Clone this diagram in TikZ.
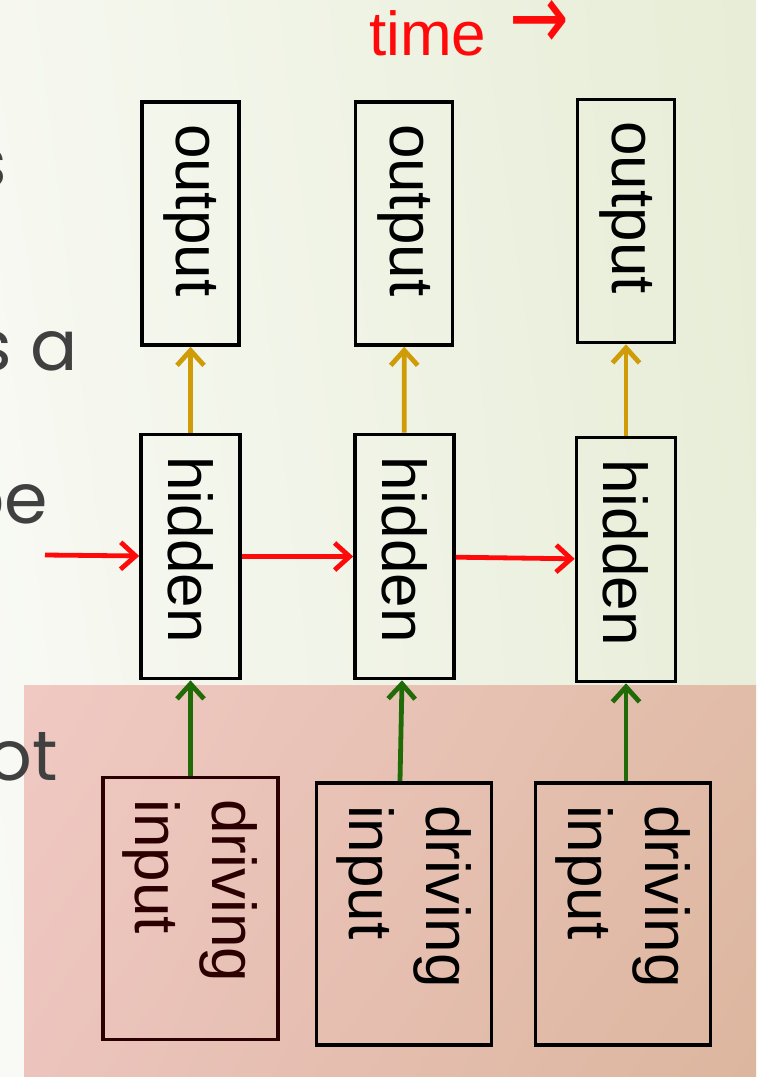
\documentclass[tikz,border=0pt]{standalone}
\usepackage{fontspec}
\setmainfont{Liberation Sans}
\newfontfamily\slidefont{Poppins}
\newfontfamily\arrowfont{DejaVu Sans}
\usetikzlibrary{arrows.meta,shadings}

\definecolor{bgUL}{HTML}{F6F8F0}
\definecolor{bgUR}{HTML}{E7EDD6}
\definecolor{bgLL}{HTML}{F9FAF6}
\definecolor{bgLR}{HTML}{E9EEDB}
\definecolor{pinkUL}{HTML}{F0C9C3}
\definecolor{pinkUR}{HTML}{E1BCA8}
\definecolor{pinkLL}{HTML}{ECC4BD}
\definecolor{pinkLR}{HTML}{DCB69E}
\definecolor{timered}{HTML}{FF0A0A}
\definecolor{readgold}{HTML}{CF9B06}
\definecolor{drivegreen}{HTML}{216A08}
\definecolor{inkbrown}{HTML}{2C0000}
\definecolor{slidegray}{HTML}{404040}

\begin{document}
\begin{tikzpicture}[x=1pt,y=-1pt,>={Straight Barb[length=15pt,width=27pt]},
                    box/.style={draw,line width=3.6pt,rotate=-90,align=left,
                                inner xsep=22pt,inner ysep=0pt,
                                font=\fontsize{62}{77}\selectfont},
                    outbox/.style={box,minimum width=243pt,text width=199pt,minimum height=97pt},
                    hidbox/.style={box,minimum width=244pt,text width=200pt,minimum height=99pt},
                    inbox/.style={box,minimum width=262pt,text width=218pt,minimum height=175pt},
                    fragment/.style={anchor=base east,inner sep=0pt,text=slidegray,
                                     font=\slidefont\fontsize{70}{70}\selectfont},
                    recur/.style={->,line width=4.8pt,draw=timered},
                    readout/.style={->,line width=4.8pt,draw=readgold},
                    drive/.style={->,line width=4.8pt,draw=drivegreen}]

  \useasboundingbox (0,0) rectangle (756,1077);
  \shade[upper left=bgUL,upper right=bgUR,lower left=bgLL,lower right=bgLR]
    (0,0) rectangle (756,1077);
  \shade[upper left=pinkUL,upper right=pinkUR,lower left=pinkLL,lower right=pinkLR]
    (24,685) rectangle (756,1077);

  \node[fragment] (cutS)  at (7,187)  {is};
  \node[fragment] (cutSA) at (78,370) {is a};
  \node[fragment] (cutBE) at (48,523) {be};
  \node[fragment] (cutOT) at (58,780) {not};

  \node[anchor=base west,inner sep=0pt,text=timered,font=\fontsize{62}{62}\selectfont]
    (clock) at (369,55) {time\hspace{23pt}\raisebox{6pt}{\scalebox{1.15}[1.5]{\arrowfont →}}};

  \node[outbox] (out1) at (190.5,223.5) {output};
  \node[outbox] (out2) at (404,223.5)   {output};
  \node[outbox] (out3) at (626,221)     {output};

  \node[hidbox] (hid1) at (190.5,556.5) {hidden};
  \node[hidbox] (hid2) at (404.5,556.5) {hidden};
  \node[hidbox] (hid3) at (626,559.5)   {hidden};

  \node[inbox,draw=inkbrown,text=inkbrown] (in1) at (190.5,908.5) {driving\\input};
  \node[inbox] (in2) at (404,914) {driving\\input};
  \node[inbox] (in3) at (623,914) {driving\\input};

  \coordinate (feed) at (45,555);

  \draw[recur]   (feed) -- (hid1);
  \draw[recur]   (hid1) -- (hid2);
  \draw[recur]   (hid2) -- (hid3);

  \draw[readout] (hid1) -- (out1);
  \draw[readout] (hid2) -- (out2);
  \draw[readout] (hid3) -- (out3);

  \draw[drive]   (in1) -- (hid1);
  \draw[drive]   ([xshift=-4pt]in2.west) -- (hid2);
  \draw[drive]   ([xshift=3pt]in3.west) -- (hid3);
\end{tikzpicture}
\end{document}
